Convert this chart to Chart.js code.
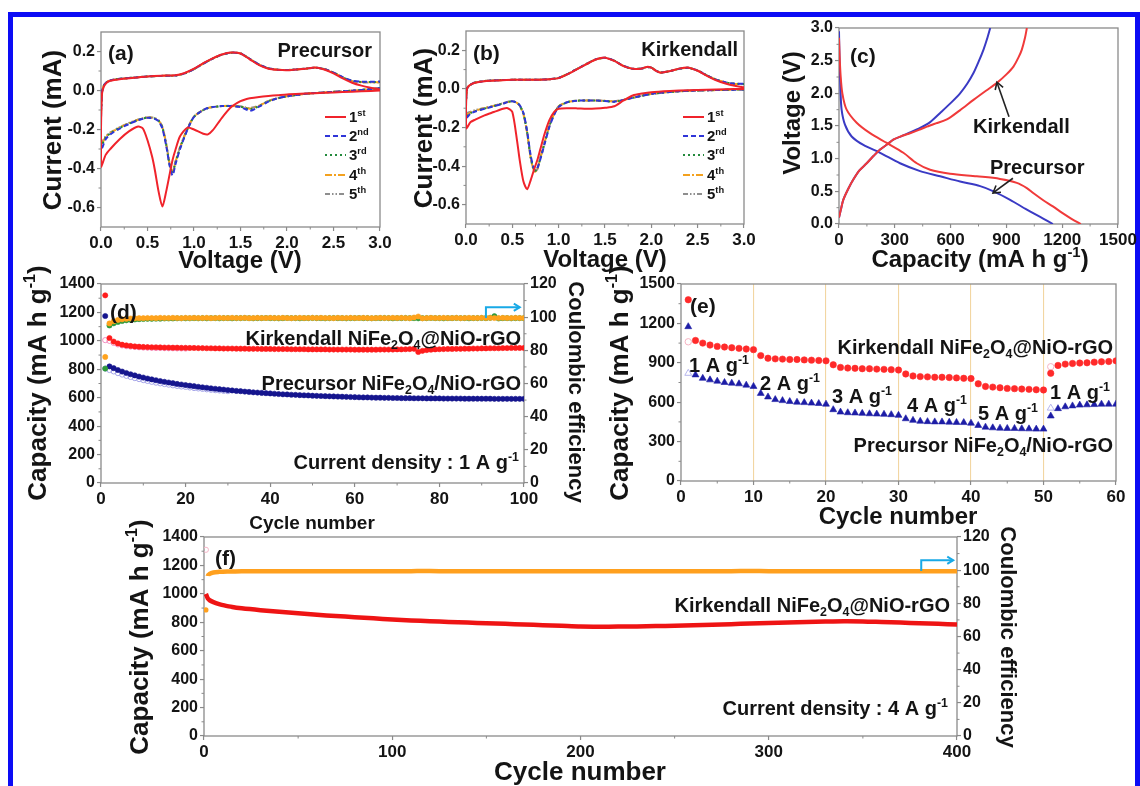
<!DOCTYPE html>
<html><head><meta charset="utf-8">
<script src="https://cdn.jsdelivr.net/npm/chart.js@4.4.1/dist/chart.umd.min.js"></script>
<style>
html,body{margin:0;padding:0;background:#fff;}
#wrap{position:relative;width:1140px;height:786px;overflow:hidden;background:#fff;}
#wrap canvas{position:absolute;left:0;top:0;}
#border{position:absolute;left:8px;top:12px;width:1132px;height:800px;border:5px solid #0c0cf5;box-sizing:border-box;}
</style></head><body>
<div id="wrap">
<div id="border"></div>
<canvas id="ca" width="1140" height="786"></canvas>
<canvas id="cb" width="1140" height="786"></canvas>
<canvas id="cc" width="1140" height="786"></canvas>
<canvas id="cd" width="1140" height="786"></canvas>
<canvas id="ce" width="1140" height="786"></canvas>
<canvas id="cf" width="1140" height="786"></canvas>
</div>
<script>
const FONT = '"Liberation Sans", Arial, Helvetica, sans-serif';

// ---------------- (a) Precursor CV ----------------
const aXTicks = [0,0.5,1.0,1.5,2.0,2.5,3.0];
const aYTicks = [-0.6,-0.4,-0.2,0.0,0.2];
const aVoltLow = [3.0,2.8,2.6,2.4,2.2,2.0,1.9,1.8,1.7,1.6,1.55,1.5,1.4,1.3,1.2,1.15,1.1,1.0,0.93,0.85,0.8,0.77,0.74,0.7,0.66,0.62,0.58,0.55,0.5,0.45,0.4,0.3,0.2,0.1,0.05,0.0];
const aVoltUp = [0.0,0.01,0.03,0.06,0.1,0.2,0.35,0.5,0.65,0.8,0.9,1.0,1.1,1.2,1.3,1.4,1.5,1.6,1.7,1.8,1.9,2.0,2.1,2.2,2.3,2.4,2.5,2.6,2.7,2.8,2.9,3.0];
const aLow1 = [0.000,-0.004,-0.008,-0.012,-0.016,-0.020,-0.024,-0.028,-0.033,-0.040,-0.046,-0.055,-0.085,-0.140,-0.205,-0.225,-0.222,-0.200,-0.190,-0.235,-0.305,-0.355,-0.425,-0.520,-0.595,-0.520,-0.410,-0.340,-0.255,-0.195,-0.185,-0.210,-0.250,-0.300,-0.330,-0.390];
const aLow2 = [0.012,0.003,-0.004,-0.010,-0.017,-0.030,-0.040,-0.057,-0.083,-0.105,-0.095,-0.085,-0.080,-0.080,-0.085,-0.090,-0.100,-0.135,-0.200,-0.300,-0.380,-0.435,-0.390,-0.280,-0.195,-0.158,-0.146,-0.142,-0.140,-0.145,-0.152,-0.172,-0.195,-0.225,-0.250,-0.305];
const aLow3 = [0.012,0.003,-0.004,-0.010,-0.017,-0.030,-0.040,-0.055,-0.080,-0.097,-0.090,-0.083,-0.079,-0.080,-0.085,-0.090,-0.100,-0.135,-0.198,-0.295,-0.372,-0.422,-0.385,-0.275,-0.190,-0.155,-0.144,-0.141,-0.139,-0.144,-0.151,-0.170,-0.192,-0.220,-0.240,-0.285];
const aLow4 = [0.012,0.003,-0.004,-0.010,-0.017,-0.030,-0.040,-0.054,-0.079,-0.093,-0.088,-0.082,-0.079,-0.080,-0.085,-0.090,-0.100,-0.134,-0.196,-0.292,-0.368,-0.418,-0.382,-0.272,-0.188,-0.154,-0.143,-0.140,-0.138,-0.143,-0.150,-0.168,-0.190,-0.218,-0.238,-0.280];
const aLow5 = [0.012,0.003,-0.004,-0.010,-0.017,-0.030,-0.040,-0.053,-0.078,-0.090,-0.086,-0.081,-0.078,-0.080,-0.085,-0.090,-0.100,-0.133,-0.195,-0.290,-0.365,-0.410,-0.378,-0.270,-0.186,-0.153,-0.142,-0.139,-0.137,-0.142,-0.149,-0.166,-0.188,-0.215,-0.235,-0.270];
const aUp1 = [-0.200,-0.020,0.020,0.040,0.050,0.058,0.065,0.072,0.076,0.078,0.090,0.112,0.140,0.165,0.185,0.195,0.190,0.160,0.130,0.112,0.106,0.104,0.108,0.112,0.118,0.108,0.088,0.062,0.040,0.025,0.014,0.005];
const aUp2 = [-0.150,-0.010,0.025,0.042,0.052,0.060,0.066,0.072,0.075,0.077,0.088,0.110,0.138,0.163,0.184,0.194,0.190,0.162,0.133,0.114,0.107,0.105,0.108,0.112,0.117,0.110,0.092,0.068,0.050,0.045,0.045,0.046];
const aUp3 = [-0.140,-0.010,0.025,0.042,0.052,0.060,0.066,0.072,0.075,0.077,0.088,0.110,0.138,0.163,0.184,0.194,0.190,0.162,0.133,0.114,0.107,0.105,0.108,0.112,0.117,0.110,0.092,0.067,0.049,0.044,0.043,0.044];
const aUp4 = [-0.140,-0.010,0.025,0.042,0.052,0.060,0.066,0.072,0.075,0.077,0.088,0.110,0.138,0.163,0.184,0.194,0.190,0.162,0.133,0.114,0.107,0.105,0.108,0.112,0.117,0.110,0.092,0.067,0.048,0.043,0.042,0.043];
const aUp5 = [-0.130,-0.010,0.025,0.042,0.052,0.060,0.066,0.072,0.075,0.077,0.088,0.110,0.138,0.163,0.184,0.194,0.190,0.162,0.133,0.114,0.107,0.105,0.108,0.112,0.117,0.110,0.092,0.066,0.047,0.042,0.041,0.042];

// ---------------- (b) Kirkendall CV ----------------
const bXTicks = [0,0.5,1.0,1.5,2.0,2.5,3.0];
const bYTicks = [-0.6,-0.4,-0.2,0.0,0.2];
const bVoltLow = [3.0,2.8,2.6,2.4,2.2,2.0,1.9,1.8,1.7,1.6,1.5,1.4,1.3,1.2,1.1,1.0,0.95,0.9,0.85,0.8,0.77,0.74,0.7,0.66,0.62,0.58,0.55,0.5,0.45,0.4,0.3,0.2,0.1,0.05,0.0];
const bVoltUp = [0.0,0.01,0.03,0.06,0.1,0.2,0.35,0.5,0.65,0.8,0.9,1.0,1.1,1.2,1.3,1.4,1.5,1.6,1.7,1.8,1.9,1.95,2.0,2.05,2.1,2.2,2.3,2.4,2.5,2.6,2.7,2.8,2.9,3.0];
const bLow1 = [0.000,-0.002,-0.004,-0.007,-0.011,-0.017,-0.024,-0.034,-0.060,-0.090,-0.098,-0.102,-0.103,-0.101,-0.100,-0.103,-0.120,-0.162,-0.230,-0.316,-0.368,-0.410,-0.470,-0.520,-0.480,-0.370,-0.265,-0.120,-0.100,-0.103,-0.120,-0.137,-0.159,-0.172,-0.205];
const bLow2 = [-0.003,-0.005,-0.007,-0.010,-0.016,-0.026,-0.035,-0.046,-0.057,-0.066,-0.063,-0.060,-0.060,-0.061,-0.068,-0.094,-0.135,-0.197,-0.282,-0.368,-0.410,-0.420,-0.350,-0.220,-0.125,-0.085,-0.072,-0.064,-0.068,-0.076,-0.090,-0.103,-0.117,-0.128,-0.150];
const bLow3 = [-0.003,-0.005,-0.007,-0.010,-0.016,-0.026,-0.035,-0.046,-0.057,-0.066,-0.063,-0.060,-0.060,-0.061,-0.068,-0.092,-0.132,-0.192,-0.278,-0.365,-0.412,-0.425,-0.358,-0.226,-0.128,-0.086,-0.072,-0.064,-0.068,-0.076,-0.089,-0.102,-0.115,-0.125,-0.142];
const bLow4 = [-0.003,-0.005,-0.007,-0.010,-0.016,-0.026,-0.035,-0.046,-0.057,-0.065,-0.062,-0.060,-0.060,-0.061,-0.068,-0.090,-0.130,-0.190,-0.275,-0.362,-0.415,-0.430,-0.362,-0.228,-0.130,-0.087,-0.072,-0.064,-0.068,-0.075,-0.088,-0.100,-0.113,-0.122,-0.135];
const bLow5 = [-0.003,-0.005,-0.007,-0.010,-0.016,-0.026,-0.035,-0.046,-0.056,-0.064,-0.062,-0.060,-0.060,-0.061,-0.068,-0.090,-0.129,-0.188,-0.272,-0.360,-0.416,-0.432,-0.365,-0.230,-0.132,-0.088,-0.072,-0.064,-0.067,-0.074,-0.087,-0.099,-0.110,-0.118,-0.125];
const bUp1 = [-0.100,0.000,0.015,0.025,0.032,0.040,0.044,0.047,0.048,0.048,0.050,0.056,0.077,0.103,0.128,0.152,0.162,0.145,0.118,0.104,0.106,0.114,0.110,0.094,0.084,0.092,0.105,0.110,0.094,0.068,0.045,0.028,0.016,0.008];
const bUp2 = [-0.080,0.000,0.015,0.025,0.033,0.041,0.045,0.047,0.048,0.048,0.050,0.057,0.078,0.104,0.129,0.153,0.161,0.146,0.119,0.104,0.106,0.113,0.110,0.095,0.085,0.092,0.104,0.109,0.095,0.070,0.048,0.034,0.027,0.026];
const bUp3 = [-0.075,0.000,0.015,0.025,0.033,0.041,0.045,0.047,0.048,0.048,0.050,0.057,0.078,0.104,0.129,0.153,0.161,0.146,0.119,0.104,0.106,0.113,0.110,0.095,0.085,0.092,0.104,0.109,0.095,0.070,0.048,0.034,0.027,0.025];
const bUp4 = [-0.070,0.000,0.015,0.025,0.033,0.041,0.045,0.047,0.048,0.048,0.050,0.057,0.078,0.104,0.129,0.153,0.161,0.146,0.119,0.104,0.106,0.113,0.110,0.095,0.085,0.092,0.104,0.109,0.095,0.070,0.048,0.034,0.026,0.025];
const bUp5 = [-0.065,0.000,0.015,0.025,0.033,0.041,0.045,0.047,0.048,0.048,0.050,0.057,0.078,0.104,0.129,0.153,0.161,0.146,0.119,0.104,0.106,0.113,0.110,0.095,0.085,0.092,0.104,0.109,0.095,0.070,0.048,0.034,0.026,0.024];

// ---------------- (c) charge/discharge ----------------
const cXTicks = [0,300,600,900,1200,1500];
const cYTicks = [0,0.5,1.0,1.5,2.0,2.5,3.0];
const cKirkDisCap = [0,3,8,18,41,95,167,257,346,418,490,597,741,866,956,1010,1046,1100,1150,1200,1250,1300];
const cKirkDisV   = [2.85,2.6,2.3,2.0,1.75,1.55,1.39,1.24,1.09,0.93,0.83,0.77,0.73,0.69,0.63,0.55,0.47,0.36,0.27,0.17,0.08,0.0];
const cKirkChgCap = [0,10,23,50,77,110,149,185,221,260,292,340,382,430,472,520,580,650,723,790,849,900,938,965,983,1000,1010];
const cKirkChgV   = [0.1,0.22,0.37,0.54,0.68,0.82,0.93,1.04,1.14,1.22,1.29,1.35,1.39,1.44,1.49,1.54,1.6,1.74,1.9,2.04,2.16,2.29,2.41,2.55,2.67,2.85,3.0];
const cPreDisCap = [0,3,8,14,32,68,131,221,328,436,544,651,759,831,920,1010,1100,1150];
const cPreDisV   = [2.95,2.5,2.05,1.75,1.52,1.34,1.21,1.09,0.93,0.81,0.73,0.65,0.58,0.5,0.37,0.22,0.08,0.0];
const cPreChgCap = [0,10,23,50,77,110,149,185,221,260,292,340,382,436,490,544,600,651,690,723,750,777,798,813];
const cPreChgV   = [0.1,0.22,0.37,0.54,0.68,0.82,0.93,1.04,1.14,1.22,1.29,1.35,1.4,1.47,1.56,1.7,1.85,2.0,2.15,2.31,2.48,2.67,2.85,3.0];
const cArrowKirk = [[914,1.64],[849,2.17]];
const cArrowPrec = [[935,0.70],[828,0.475]];

// ---------------- (d) cycling 1 A/g ----------------
const dXTicks = [0,20,40,60,80,100];
const dYTicks = [0,200,400,600,800,1000,1200,1400];
const dY2Ticks = [0,20,40,60,80,100,120];
const dCycles = Array.from({length:100}, (_, i) => i + 1);
const dKirkDis = [1320,1020,995,982,973,968,964,961,959,957,
956,955,955,954,953,953,952,952,951,951,
950,950,949,949,948,948,947,947,946,946,
946,945,945,945,944,944,944,943,943,943,
942,942,942,942,941,941,941,941,940,940,
940,940,940,939,939,939,939,939,939,938,
938,938,938,938,938,939,939,939,939,940,
940,941,942,944,922,930,935,938,940,941,
942,943,943,944,944,945,945,946,946,947,
947,948,948,948,949,949,950,950,950,950];
const dKirkChg = [1005,1000,985,975,968,963,960,957,955,953,952,951,950,950,949,948,948,947,947,946];
const dPreDis = [1175,820,808,795,784,774,765,757,749,742,
735,729,723,717,712,707,702,697,693,689,
685,681,677,673,670,666,663,660,657,654,
651,648,646,643,641,638,636,634,632,630,
628,626,624,623,621,620,618,617,616,614,
613,612,611,610,609,608,607,606,605,604,
603,602,602,601,600,600,599,599,598,598,
597,597,597,596,596,596,595,595,595,595,
594,594,594,594,594,593,593,593,593,593,
593,593,592,592,592,592,592,592,592,592];
const dPreChg = [805,795,785,773,763,754,746,738,731,724,718,712,706,701,696,692,687,683,679,676,672,668,665,662,659,656,653,651,648,646];
const dKirkCE = [76.0,96.2,97.6,98.3,98.7,99.0,99.2,99.3,99.4,99.4,
99.5,99.5,99.4,99.6,99.5,99.5,99.6,99.5,99.4,99.6,
99.5,99.6,99.5,99.5,99.6,99.4,99.5,99.6,99.5,99.5,
99.6,99.5,99.5,99.6,99.4,99.5,99.6,99.5,99.5,99.6,
99.5,99.5,99.6,99.5,99.4,99.5,99.6,99.5,99.5,99.6,
99.5,99.6,99.5,99.5,99.4,99.6,99.5,99.5,99.6,99.5,
99.5,99.6,99.5,99.4,99.5,99.6,99.5,99.5,99.6,99.5,
99.6,99.5,99.4,99.8,100.4,99.3,99.5,99.6,99.5,99.5,
99.6,99.5,99.5,99.6,99.4,99.5,99.6,99.5,99.5,99.6,
99.5,99.6,99.5,99.5,99.6,99.5,99.5,99.6,99.5,99.5];
const dPreCE = [69.0,95.0,96.3,97.1,97.7,98.1,98.4,98.6,98.8,98.9,
99.0,99.0,99.1,99.1,99.2,99.2,99.2,99.3,99.3,99.3,
99.3,99.4,99.3,99.4,99.3,99.4,99.4,99.3,99.4,99.4,
99.3,99.4,99.4,99.5,99.4,99.3,99.4,99.4,99.5,99.4,
99.4,99.3,99.4,99.5,99.4,99.4,99.3,99.4,99.4,99.5,
99.4,99.4,99.3,99.4,99.5,99.4,99.4,99.3,99.4,99.4,
99.5,99.4,99.4,99.3,99.4,99.4,99.5,99.4,99.3,99.4,
99.4,99.5,99.4,99.4,99.3,99.4,99.4,99.5,99.4,99.4,
99.3,99.4,99.4,99.5,99.4,99.4,99.3,99.4,99.4,99.5,
99.4,99.6,100.6,99.2,99.4,99.4,99.3,99.4,99.4,99.4];
const dArrow = [[91,99.5],[91,106],[99,106]];

// ---------------- (e) rate capability ----------------
const eXTicks = [0,10,20,30,40,50,60];
const eYTicks = [0,300,600,900,1200,1500];
const eDividers = [10,20,30,40,50];
const eCycles = Array.from({length:60}, (_, i) => i + 1);
const eKirk = [1380,1070,1050,1035,1025,1020,1015,1010,1005,1000,
955,935,930,928,925,925,922,920,918,915,
885,865,860,858,855,855,852,850,848,845,
815,800,795,793,790,790,788,785,782,780,
740,720,715,710,705,703,700,698,695,693,
820,880,890,895,898,900,905,908,910,915];
const ePre = [1175,808,782,770,760,750,745,740,730,720,
667,640,620,612,605,600,597,593,590,585,
543,525,520,518,515,512,510,508,505,500,
474,462,455,452,450,450,448,446,445,440,
423,410,405,402,400,400,398,397,395,395,
495,551,565,572,578,580,582,585,585,585];
const eFaintCycles = [1,51];
const eKirkFaint = [1060,870];
const ePreFaint = [820,555];

// ---------------- (f) long cycling 4 A/g ----------------
const fXTicks = [0,100,200,300,400];
const fYTicks = [0,200,400,600,800,1000,1200,1400];
const fY2Ticks = [0,20,40,60,80,100,120];
const fCycles = [1,2,3,5,8,10,15,20,30,40,50,60,70,80,90,100,110,120,130,140,150,160,170,180,190,200,210,220,230,240,250,260,270,280,290,300,310,320,330,340,350,360,370,380,390,400];
const fKirk = [1000,968,955,942,928,921,907,898,885,874,863,853,844,836,828,820,813,808,802,798,793,789,784,780,775,770,769,770,771,773,776,779,783,787,791,795,799,802,805,807,806,802,798,793,789,785];
const fCE = [76,96.5,97.8,98.6,99.0,99.1,99.2,99.3,99.3,99.4,99.3,99.4,99.3,99.4,99.4,99.3,99.4,99.5,99.3,99.4,99.4,99.3,99.4,99.4,99.3,99.4,99.3,99.4,99.4,99.3,99.4,99.4,99.3,99.4,99.5,99.4,99.3,99.4,99.4,99.3,99.4,99.4,99.3,99.4,99.4,99.3];
const fFirstCycle = [1];
const fFirstDis = [1310];
const fArrow = [[381,99.5],[381,106],[398,106]];

// ---------------- helpers ----------------
const AXW = 60, AXH = 32, AXR = 48;
const pts = (xs, ys) => xs.map((x, i) => ({x, y: ys[i]}));
const loop = (xl, yl, xu, yu) => pts(xl, yl).concat(pts(xu, yu));

function drawRich(ctx, parts, x, y, size, o = {}) {
  const w = o.weight || 'bold';
  ctx.save();
  ctx.translate(x, y);
  if (o.rot) ctx.rotate(o.rot);
  ctx.fillStyle = o.color || '#141414';
  ctx.textBaseline = 'alphabetic';
  ctx.textAlign = 'left';
  const segs = parts.map(p => typeof p === 'string' ? {t: p, k: ''} : {t: p[0], k: p[1]});
  let total = 0;
  segs.forEach(s => {
    s.fs = s.k ? size * 0.62 : size;
    ctx.font = `${w} ${s.fs}px ${FONT}`;
    s.w = ctx.measureText(s.t).width;
    total += s.w;
  });
  let cx = o.align === 'right' ? -total : (o.align === 'center' ? -total / 2 : 0);
  const base = size * 0.36;
  segs.forEach(s => {
    ctx.font = `${w} ${s.fs}px ${FONT}`;
    const dy = s.k === 'sup' ? -size * 0.42 : (s.k === 'sub' ? size * 0.2 : 0);
    ctx.fillText(s.t, cx, base + dy);
    cx += s.w;
  });
  ctx.restore();
}

function arrow(ctx, p, color, lw, head) {
  ctx.save();
  ctx.strokeStyle = color; ctx.lineWidth = lw; ctx.lineCap = 'butt'; ctx.lineJoin = 'miter';
  ctx.beginPath(); ctx.moveTo(p[0][0], p[0][1]);
  for (let i = 1; i < p.length; i++) ctx.lineTo(p[i][0], p[i][1]);
  ctx.stroke();
  const [x1, y1] = p[p.length - 2], [x2, y2] = p[p.length - 1];
  const a = Math.atan2(y2 - y1, x2 - x1);
  ctx.beginPath();
  ctx.moveTo(x2 - head * Math.cos(a - 0.55), y2 - head * Math.sin(a - 0.55));
  ctx.lineTo(x2, y2);
  ctx.lineTo(x2 - head * Math.cos(a + 0.55), y2 - head * Math.sin(a + 0.55));
  ctx.stroke();
  ctx.restore();
}
function toPx(chart, yId, arr) {
  return arr.map(([vx, vy]) => [chart.scales.x.getPixelForValue(vx), chart.scales[yId].getPixelForValue(vy)]);
}

function axis(pos, min, max, tickVals, fmt, o = {}) {
  const isX = pos === 'bottom';
  const size = isX ? AXH : (pos === 'left' ? AXW : AXR);
  return {
    type: 'linear', position: pos, min, max,
    afterBuildTicks: s => { s.ticks = tickVals.map(v => ({value: v})); },
    ticks: {autoSkip: false, maxRotation: 0, minRotation: 0, padding: 2, color: '#141414',
      font: {family: FONT, size: isX ? 17 : 16, weight: 'bold'}, callback: v => fmt(v)},
    grid: {drawOnChartArea: !!o.gridColor, color: o.gridColor || '#8a8a8a', tickColor: '#8a8a8a',
      tickLength: 4, lineWidth: 1.1, tickWidth: 1.2},
    border: {display: false},
    afterFit: s => { if (isX) s.height = size; else s.width = size; s.paddingLeft = s.paddingRight = s.paddingTop = s.paddingBottom = 0; }
  };
}

function deco(texts) {
  return {
    id: 'deco',
    beforeDatasetsDraw(chart) {
      const {ctx, chartArea: a} = chart;
      ctx.save();
      ctx.strokeStyle = '#8a8a8a'; ctx.lineWidth = 1.3;
      ctx.strokeRect(a.left, a.top, a.right - a.left, a.bottom - a.top);
      ctx.lineWidth = 1;
      Object.values(chart.scales).forEach(s => {
        const t = s.ticks;
        for (let i = 0; i < t.length - 1; i++) {
          const p = s.getPixelForValue((t[i].value + t[i + 1].value) / 2);
          ctx.beginPath();
          if (s.position === 'bottom') { ctx.moveTo(p, a.bottom); ctx.lineTo(p, a.bottom + 2.5); }
          else if (s.position === 'left') { ctx.moveTo(a.left, p); ctx.lineTo(a.left - 2.5, p); }
          else { ctx.moveTo(a.right, p); ctx.lineTo(a.right + 2.5, p); }
          ctx.stroke();
        }
      });
      ctx.restore();
    },
    afterDraw(chart) { texts(chart, chart.ctx); }
  };
}

function make(id, area, scales, datasets, texts) {
  const hasRight = Object.values(scales).some(s => s.position === 'right');
  return new Chart(document.getElementById(id), {
    type: 'scatter',
    data: {datasets},
    options: {
      responsive: false, animation: false, devicePixelRatio: 1, events: [],
      layout: {autoPadding: false, padding: {left: area.L - AXW, top: area.T,
        right: 1140 - area.R - (hasRight ? AXR : 0), bottom: 786 - area.B - AXH}},
      plugins: {legend: {display: false}, tooltip: {enabled: false}, title: {display: false}},
      scales
    },
    plugins: [deco(texts)]
  });
}

const f1 = v => v.toFixed(1);
const f0 = v => String(Math.round(v));
const CAP = ['Capacity (mA h g', ['-1', 'sup'], ')'];
const KIRK = ['Kirkendall NiFe', ['2', 'sub'], 'O', ['4', 'sub'], '@NiO-rGO'];
const PREC = ['Precursor NiFe', ['2', 'sub'], 'O', ['4', 'sub'], '/NiO-rGO'];

const cvStyles = [
  {c: '#f0232b', d: []},
  {c: '#2f35d8', d: [5, 3]},
  {c: '#238a3c', d: [2, 3]},
  {c: '#f3a11f', d: [7, 2, 2, 2]},
  {c: '#8e8e8e', d: [5, 2, 1.5, 2, 1.5, 2]}
];
const cvLabels = [['1', ['st', 'sup']], ['2', ['nd', 'sup']], ['3', ['rd', 'sup']], ['4', ['th', 'sup']], ['5', ['th', 'sup']]];
function cvSets(series) {
  return series.map((d, i) => ({data: d, showLine: true, pointRadius: 0, borderWidth: 2, tension: 0.25,
    borderColor: cvStyles[i].c, borderDash: cvStyles[i].d, fill: false}));
}
function cvLegend(ctx, x0, x1, tx, rows) {
  rows.forEach((y, i) => {
    ctx.save();
    ctx.strokeStyle = cvStyles[i].c; ctx.lineWidth = 2; ctx.setLineDash(cvStyles[i].d);
    ctx.beginPath(); ctx.moveTo(x0, y); ctx.lineTo(x1, y); ctx.stroke();
    ctx.restore();
    drawRich(ctx, cvLabels[i], tx, y, 15);
  });
}

// ---------------- build charts ----------------
make('ca', {L: 101, T: 32, R: 380, B: 227},
  {x: axis('bottom', 0, 3, aXTicks, f1), y: axis('left', -0.7, 0.3, aYTicks, f1)},
  cvSets([
    loop(aVoltLow, aLow1, aVoltUp, aUp1),
    loop(aVoltLow, aLow2, aVoltUp, aUp2),
    loop(aVoltLow, aLow3, aVoltUp, aUp3),
    loop(aVoltLow, aLow4, aVoltUp, aUp4),
    loop(aVoltLow, aLow5, aVoltUp, aUp5)
  ]),
  (chart, ctx) => {
    drawRich(ctx, ['(a)'], 108, 52, 21);
    drawRich(ctx, ['Precursor'], 372, 50, 20, {align: 'right'});
    cvLegend(ctx, 325, 346, 349, [117, 136, 155, 175, 194]);
    drawRich(ctx, ['Current (mA)'], 52, 130, 26, {align: 'center', rot: -Math.PI / 2});
    drawRich(ctx, ['Voltage (V)'], 240, 259, 24, {align: 'center'});
  });

make('cb', {L: 466, T: 31, R: 744, B: 224},
  {x: axis('bottom', 0, 3, bXTicks, f1), y: axis('left', -0.7, 0.3, bYTicks, f1)},
  cvSets([
    loop(bVoltLow, bLow1, bVoltUp, bUp1),
    loop(bVoltLow, bLow2, bVoltUp, bUp2),
    loop(bVoltLow, bLow3, bVoltUp, bUp3),
    loop(bVoltLow, bLow4, bVoltUp, bUp4),
    loop(bVoltLow, bLow5, bVoltUp, bUp5)
  ]),
  (chart, ctx) => {
    drawRich(ctx, ['(b)'], 473, 52, 21);
    drawRich(ctx, ['Kirkendall'], 738, 49, 20, {align: 'right'});
    cvLegend(ctx, 683, 704, 707, [117, 136, 155, 175, 194]);
    drawRich(ctx, ['Current (mA)'], 423, 128, 26, {align: 'center', rot: -Math.PI / 2});
    drawRich(ctx, ['Voltage (V)'], 605, 258, 24, {align: 'center'});
  });

const lineSet = (data, color) => ({data, showLine: true, pointRadius: 0, borderWidth: 2, tension: 0.3, borderColor: color, fill: false});
make('cc', {L: 839, T: 28, R: 1118, B: 224},
  {x: axis('bottom', 0, 1500, cXTicks, f0), y: axis('left', 0, 3, cYTicks, f1)},
  [
    lineSet(pts(cKirkDisCap, cKirkDisV), '#f03a3a'),
    lineSet(pts(cKirkChgCap, cKirkChgV), '#f03a3a'),
    lineSet(pts(cPreDisCap, cPreDisV), '#3a3ac4'),
    lineSet(pts(cPreChgCap, cPreChgV), '#3a3ac4')
  ],
  (chart, ctx) => {
    drawRich(ctx, ['(c)'], 850, 55, 21);
    drawRich(ctx, ['Kirkendall'], 973, 126, 20);
    drawRich(ctx, ['Precursor'], 990, 167, 20);
    arrow(ctx, toPx(chart, 'y', cArrowKirk), '#222', 1.6, 8);
    arrow(ctx, toPx(chart, 'y', cArrowPrec), '#222', 1.6, 8);
    drawRich(ctx, ['Voltage (V)'], 791, 113, 24, {align: 'center', rot: -Math.PI / 2});
    drawRich(ctx, CAP, 980, 258, 24, {align: 'center'});
  });

const dots = (data, color, r, yId, o = {}) => Object.assign({data, showLine: false, pointRadius: r, pointStyle: 'circle',
  backgroundColor: color, borderColor: color, borderWidth: 0.6, yAxisID: yId}, o);

make('cd', {L: 101, T: 284, R: 524, B: 483},
  {x: axis('bottom', 0, 100, dXTicks, f0), y: axis('left', 0, 1400, dYTicks, f0), y2: axis('right', 0, 120, dY2Ticks, f0)},
  [
    dots(pts(dCycles, dKirkCE), '#ffa21c', 2.6, 'y2'),
    dots(pts(dCycles, dPreCE), '#2f9a3a', 2.6, 'y2'),
    dots(pts(dCycles, dKirkDis), '#ff1c1c', 2.6, 'y'),
    dots(pts(dCycles.slice(0, dKirkChg.length), dKirkChg), 'rgba(0,0,0,0)', 2.6, 'y', {borderColor: '#f38fc0', borderWidth: 1}),
    dots(pts(dCycles, dPreDis), '#15158e', 2.6, 'y'),
    dots(pts(dCycles.slice(0, dPreChg.length), dPreChg), 'rgba(0,0,0,0)', 2.6, 'y', {borderColor: '#a5a5e8', borderWidth: 1})
  ],
  (chart, ctx) => {
    drawRich(ctx, ['(d)'], 110, 311, 21);
    drawRich(ctx, KIRK, 521, 338, 20, {align: 'right'});
    drawRich(ctx, PREC, 521, 383, 20, {align: 'right'});
    drawRich(ctx, ['Current density : 1 A g', ['-1', 'sup']], 519, 462, 20, {align: 'right'});
    arrow(ctx, toPx(chart, 'y2', dArrow), '#19a9e6', 2, 7);
    drawRich(ctx, CAP, 37, 383, 26, {align: 'center', rot: -Math.PI / 2});
    drawRich(ctx, ['Coulombic efficiency'], 577, 392, 22, {align: 'center', rot: Math.PI / 2});
    drawRich(ctx, ['Cycle number'], 312, 522, 19, {align: 'center'});
  });

make('ce', {L: 681, T: 284, R: 1116, B: 481},
  {x: axis('bottom', 0, 60, eXTicks, f0, {gridColor: c => eDividers.includes(c.tick && c.tick.value) ? '#f2d6a2' : 'rgba(0,0,0,0)'}),
   y: axis('left', 0, 1500, eYTicks, f0)},
  [
    dots(pts(eCycles, eKirk), '#ff2a2a', 3.2, 'y'),
    dots(pts(eCycles, ePre), '#1d1da6', 4, 'y', {pointStyle: 'triangle'}),
    dots(pts(eFaintCycles, eKirkFaint), 'rgba(0,0,0,0)', 3.2, 'y', {borderColor: '#f6b3c2', borderWidth: 1}),
    dots(pts(eFaintCycles, ePreFaint), 'rgba(0,0,0,0)', 4, 'y', {pointStyle: 'triangle', borderColor: '#b6b6ee', borderWidth: 1})
  ],
  (chart, ctx) => {
    drawRich(ctx, ['(e)'], 690, 305, 21);
    drawRich(ctx, KIRK, 1113, 347, 20, {align: 'right'});
    drawRich(ctx, PREC, 1113, 445, 20, {align: 'right'});
    const AG = n => [n + ' A g', ['-1', 'sup']];
    drawRich(ctx, AG('1'), 689, 365, 20);
    drawRich(ctx, AG('2'), 760, 383, 20);
    drawRich(ctx, AG('3'), 832, 396, 20);
    drawRich(ctx, AG('4'), 907, 405, 20);
    drawRich(ctx, AG('5'), 978, 413, 20);
    drawRich(ctx, AG('1'), 1050, 392, 20);
    drawRich(ctx, CAP, 619, 383, 26, {align: 'center', rot: -Math.PI / 2});
    drawRich(ctx, ['Cycle number'], 898, 515, 24, {align: 'center'});
  });

make('cf', {L: 204, T: 537, R: 957, B: 736},
  {x: axis('bottom', 0, 400, fXTicks, f0), y: axis('left', 0, 1400, fYTicks, f0), y2: axis('right', 0, 120, fY2Ticks, f0)},
  [
    {data: pts(fCycles, fCE), yAxisID: 'y2', showLine: true, borderColor: '#ffa01e', borderWidth: 4.5, tension: 0.3,
     pointRadius: c => c.dataIndex === 0 ? 2.6 : 0, pointBackgroundColor: '#ffa01e', pointBorderWidth: 0,
     segment: {borderColor: c => c.p0DataIndex === 0 ? 'rgba(0,0,0,0)' : undefined}},
    {data: pts(fCycles, fKirk), yAxisID: 'y', showLine: true, borderColor: '#ee1414', borderWidth: 4.5, tension: 0.3, pointRadius: 0},
    dots(pts(fFirstCycle, fFirstDis), 'rgba(0,0,0,0)', 2.6, 'y', {borderColor: '#f5b4c6', borderWidth: 1})
  ],
  (chart, ctx) => {
    drawRich(ctx, ['(f)'], 215, 557, 21);
    drawRich(ctx, KIRK, 950, 605, 20, {align: 'right'});
    drawRich(ctx, ['Current density : 4 A g', ['-1', 'sup']], 948, 708, 20, {align: 'right'});
    arrow(ctx, toPx(chart, 'y2', fArrow), '#19a9e6', 2, 7);
    drawRich(ctx, CAP, 139, 637, 26, {align: 'center', rot: -Math.PI / 2});
    drawRich(ctx, ['Coulombic efficiency'], 1009, 637, 22, {align: 'center', rot: Math.PI / 2});
    drawRich(ctx, ['Cycle number'], 580, 771, 26, {align: 'center'});
  });
</script>
</body></html>
